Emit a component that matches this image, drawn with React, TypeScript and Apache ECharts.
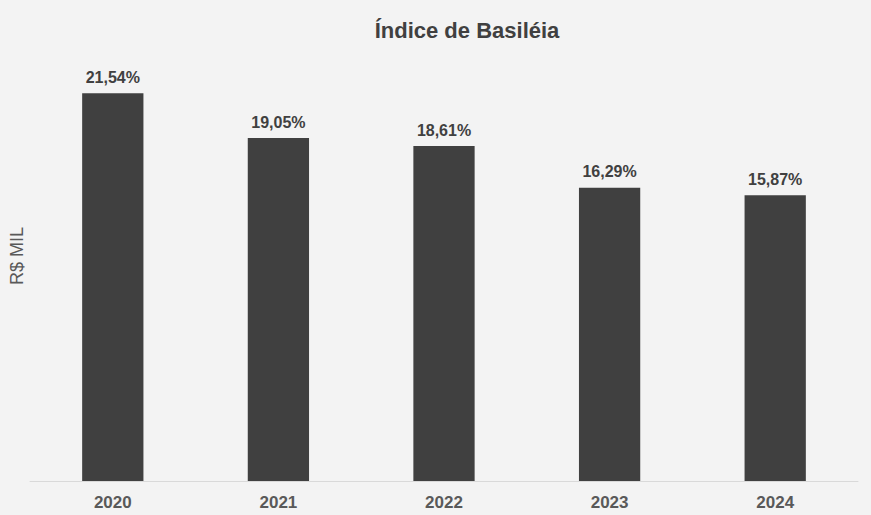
import React, { useEffect, useRef } from 'react';
import * as echarts from 'echarts';

const years = ['2020', '2021', '2022', '2023', '2024'];
const basileia = [21.54, 19.05, 18.61, 16.29, 15.87];

const fmt = (v: number) => v.toFixed(2).replace('.', ',') + '%';

export default function App() {
    const chartRef = useRef<HTMLDivElement>(null);

    useEffect(() => {
        if (chartRef.current === null) return;
        const chart = echarts.init(chartRef.current, undefined, { renderer: 'svg' });
        chart.setOption({
            animation: false,
            backgroundColor: '#f3f3f3',
            textStyle: { fontFamily: '"Liberation Sans", Arial, sans-serif' },
            title: {
                text: 'Índice de Basiléia',
                left: 462,
                top: 14,
                textAlign: 'center',
                textStyle: { fontSize: 22, fontWeight: 'bold', color: '#404040' },
            },
            grid: { left: 22, right: 13, top: 31, bottom: 34 },
            xAxis: {
                type: 'category',
                data: years,
                axisLine: { lineStyle: { color: '#d9d9d9', width: 1 } },
                axisTick: { show: false },
                axisLabel: { fontSize: 17, fontWeight: 'bold', color: '#595959', margin: 13 },
            },
            yAxis: {
                type: 'value',
                min: 0,
                max: 25,
                name: 'R$ MIL',
                nameLocation: 'middle',
                nameGap: 4,
                nameRotate: 90,
                nameTextStyle: { fontSize: 18, color: '#595959' },
                axisLine: { show: false },
                axisTick: { show: false },
                axisLabel: { show: false },
                splitLine: { show: false },
            },
            series: [
                {
                    type: 'bar',
                    data: basileia,
                    barWidth: '37%',
                    itemStyle: { color: '#404040' },
                    label: {
                        show: true,
                        position: 'top',
                        distance: 8,
                        formatter: (p: any) => fmt(p.value),
                        fontSize: 16,
                        fontWeight: 'bold',
                        color: '#404040',
                    },
                },
            ],
        });
        return () => {
            chart.dispose();
        };
    }, []);

    return (
        <div
            ref={chartRef}
            style={{ position: 'fixed', left: 0, top: 0, width: 871, height: 515 }}
        />
    );
}
